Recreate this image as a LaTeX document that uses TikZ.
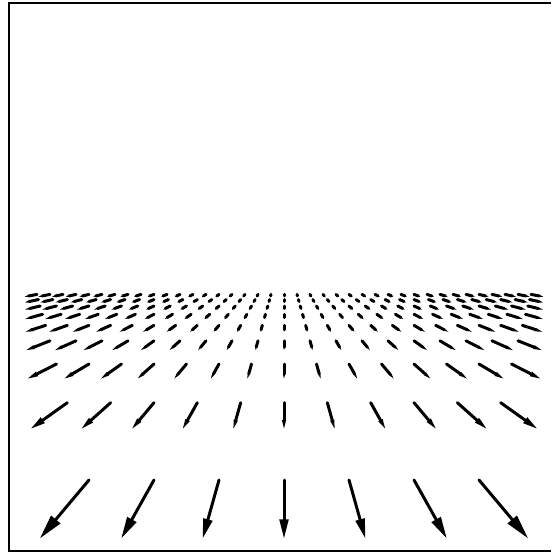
\documentclass[tikz,border=0pt]{standalone}
\usetikzlibrary{arrows.meta}
\tikzset{>=stealth}

\begin{document}
\begin{tikzpicture}[x=0.02cm, y=-0.02cm, flow/.style={line width=1.7pt, line cap=round}]
        \useasboundingbox (0,0) rectangle (551,553);
        \draw[line width=1.1pt] (551,3) -- (9,3) -- (9,551) -- (551,551);
        % rows of the ground grid, horizon at 248, focus at 284
        \foreach \n in {2,...,10}{
          \pgfmathtruncatemacro{\mlo}{1-2*\n}
          \pgfmathtruncatemacro{\mhi}{2*\n-1}
          \foreach \m in {\mlo,...,\mhi}{
            \pgfmathsetmacro{\xa}{284+130*\m/\n}
            \pgfmathsetmacro{\ya}{248+464/\n}
            \pgfmathsetmacro{\dx}{65*\m/(\n*\n)}
            \pgfmathsetmacro{\dy}{232/(\n*\n)}
            \pgfmathsetmacro{\hl}{0.0064*veclen(\dx,\dy)}
            \pgfmathsetmacro{\hw}{0.0033*veclen(\dx,\dy)}
            \draw[flow, -{Triangle[length=\hl cm, width=\hw cm, line width=0pt]}] (\xa,\ya) -- ++(\dx,\dy);
          }
        }
      \end{tikzpicture}
\end{document}
